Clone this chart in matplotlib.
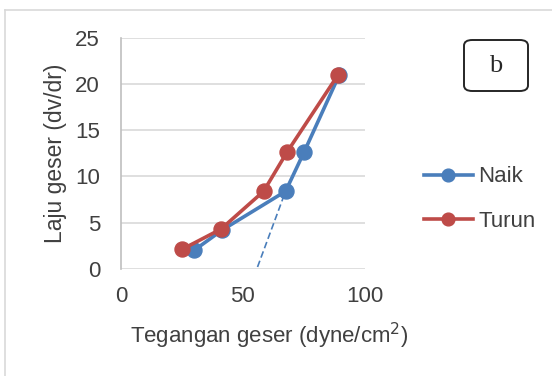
import matplotlib
matplotlib.use("Agg")
import matplotlib.pyplot as plt
from matplotlib.patches import FancyBboxPatch
from matplotlib.lines import Line2D

# data
naik_x = [30, 41.5, 67.5, 75, 89.5]
naik_y = [2.0, 4.2, 8.4, 12.6, 21.0]
turun_x = [25, 41, 58.5, 68, 89]
turun_y = [2.1, 4.3, 8.4, 12.6, 21.0]
tangent_x = [56, 67.5]
tangent_y = [0.2, 8.4]

BLUE = "#4A7EBB"
RED = "#BE4B48"
TEXT = "#404040"

plt.rcParams["font.family"] = ["Liberation Sans", "DejaVu Sans"]

fig = plt.figure(figsize=(5.52, 3.76), dpi=100)
ax = fig.add_axes([0.219, 0.285, 0.442, 0.614])

# outer frame of the chart area
fig.add_artist(Line2D([5 / 552, 1], [1 - 10 / 376, 1 - 10 / 376],
                      color="#d9d9d9", lw=1.2, transform=fig.transFigure))
fig.add_artist(Line2D([5 / 552, 5 / 552], [0, 1 - 10 / 376],
                      color="#d9d9d9", lw=1.2, transform=fig.transFigure))

ax.plot(naik_x, naik_y, color=BLUE, lw=2.6, marker="o", ms=10.8,
        label="Naik", zorder=3)
ax.plot(turun_x, turun_y, color=RED, lw=2.6, marker="o", ms=10.8,
        label="Turun", zorder=4)
ax.plot(tangent_x, tangent_y, color=BLUE, lw=1.2, ls=(0, (4, 2)), zorder=2)

ax.set_xlim(0, 100)
ax.set_ylim(0, 25)
ax.set_xticks([0, 50, 100])
ax.set_yticks([0, 5, 10, 15, 20, 25])
ax.grid(axis="y", color="#d9d9d9", lw=1.2)
ax.set_axisbelow(True)
for s in ["top", "right", "bottom"]:
    ax.spines[s].set_visible(False)
ax.spines["left"].set_color("#bfbfbf")
ax.spines["left"].set_linewidth(1.2)
ax.tick_params(length=0, labelsize=16, colors=TEXT)
ax.tick_params(axis="y", pad=15)
ax.tick_params(axis="x", pad=12)

ax.set_xlabel("Tegangan geser (dyne/cm$^2$)", fontsize=16, color=TEXT)
ax.xaxis.set_label_coords(0.61, -0.225)
ax.set_ylabel("Laju geser (dv/dr)", fontsize=16.5, color=TEXT, labelpad=6)

ax.legend(loc="center left", bbox_to_anchor=(1.16, 0.302), frameon=False,
          fontsize=16, labelcolor=TEXT, handlelength=2.2, handletextpad=0.25,
          labelspacing=1.05, markerscale=0.85)

box = FancyBboxPatch((464 / 552, 1 - 91 / 376), 64 / 552, 51 / 376,
                     boxstyle="round,pad=0,rounding_size=0.015",
                     transform=fig.transFigure, fc="white", ec="#262626",
                     lw=1.4)
fig.add_artist(box)
fig.text(496 / 552, 1 - 66 / 376, "b", fontsize=19, family="Liberation Serif",
         ha="center", va="center", color="#262626")

fig.savefig("out.png", dpi=100)
